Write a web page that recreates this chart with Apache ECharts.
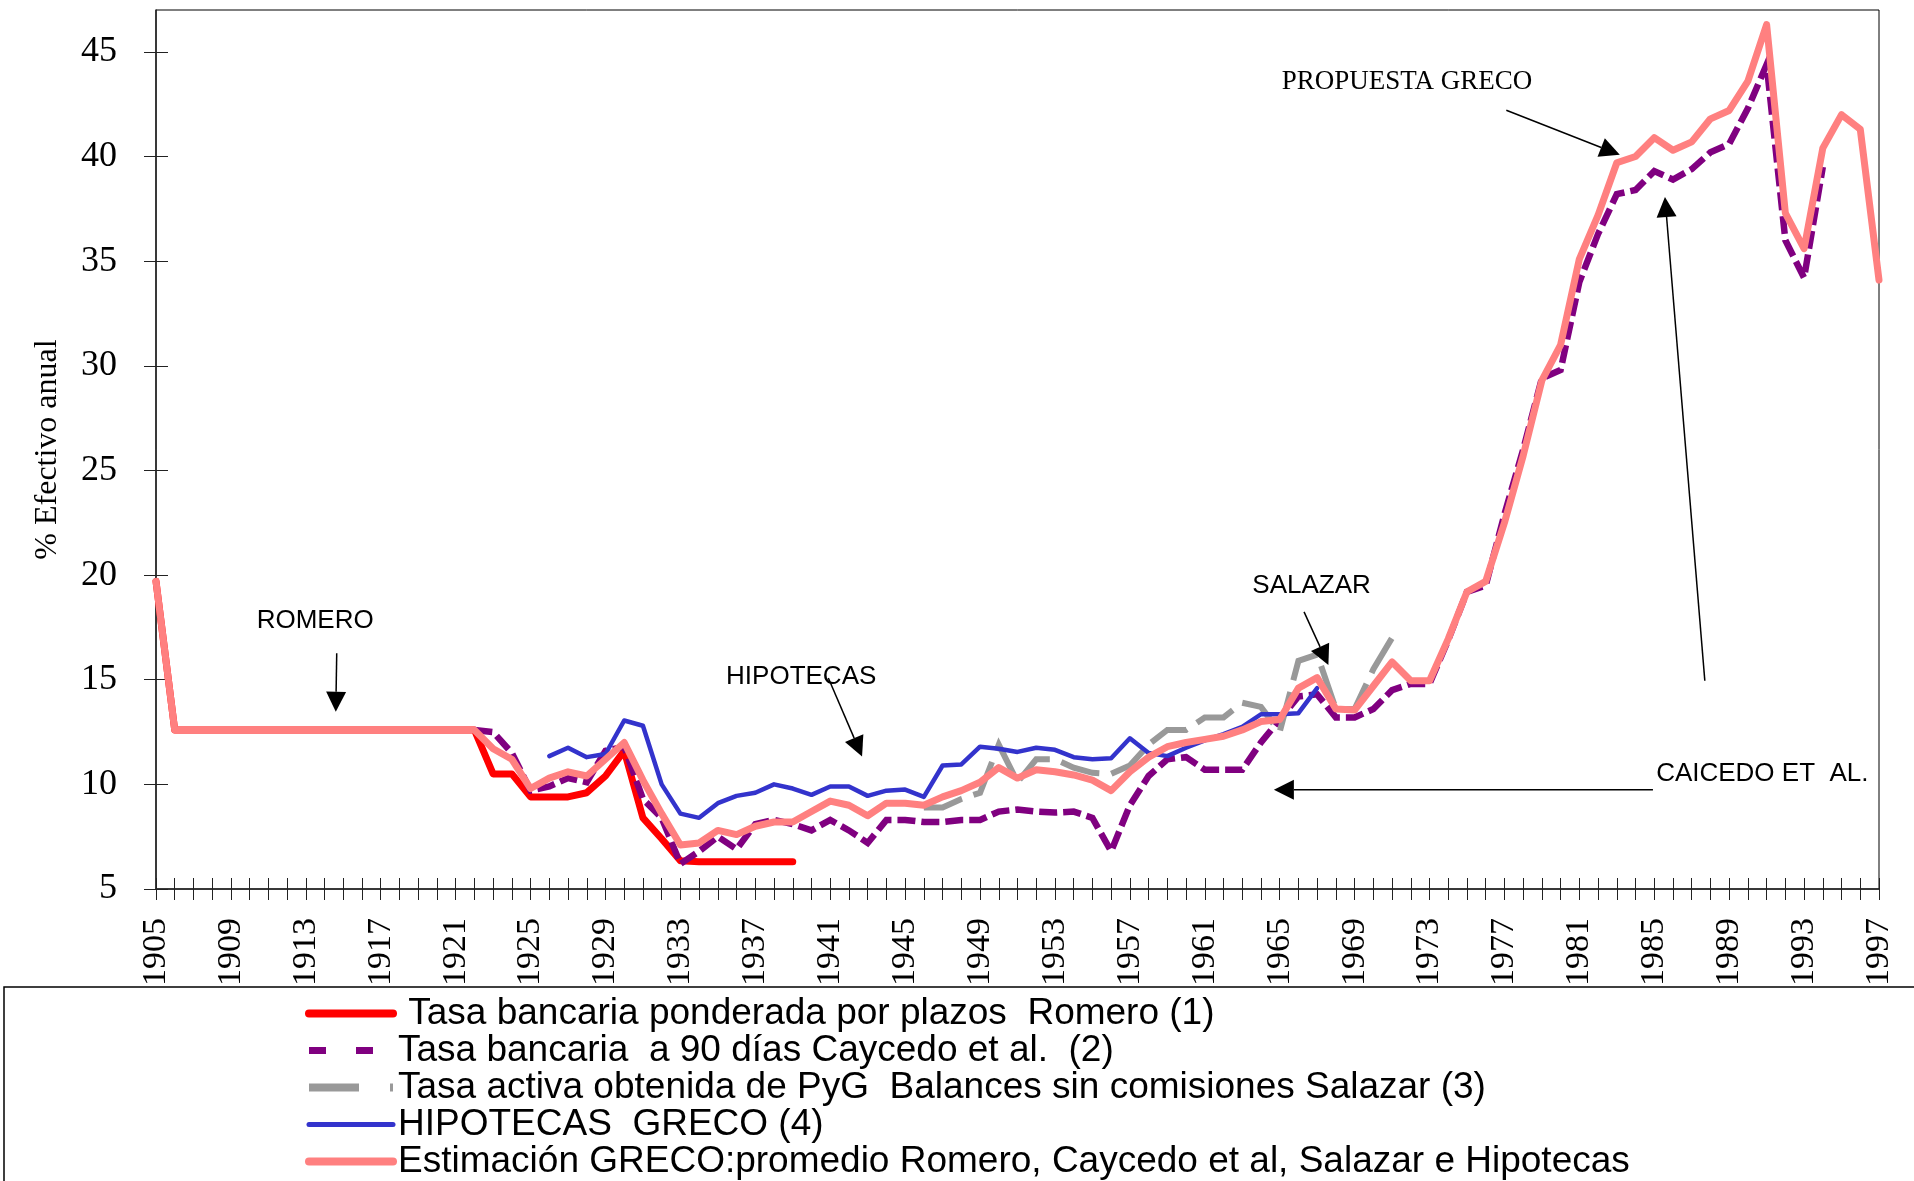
<!DOCTYPE html>
<html>
<head>
<meta charset="utf-8">
<title>Tasas de interés - Colombia 1905-1997</title>
<script src="https://cdn.jsdelivr.net/npm/echarts@6/dist/echarts.min.js"></script>
<style>
  html, body { margin: 0; padding: 0; background: #fff; }
  #chart { width: 1914px; height: 1181px; }
</style>
</head>
<body>
<div id="chart"></div>
<script>
// ---- data ----
const xLabelYears = [1905, 1909, 1913, 1917, 1921, 1925, 1929, 1933, 1937, 1941, 1945, 1949,
  1953, 1957, 1961, 1965, 1969, 1973, 1977, 1981, 1985, 1989, 1993, 1997];
const yTicks = [5, 10, 15, 20, 25, 30, 35, 40, 45];

const seriesNames = [
  ' Tasa bancaria ponderada por plazos  Romero (1)',
  'Tasa bancaria  a 90 días Caycedo et al.  (2)',
  'Tasa activa obtenida de PyG  Balances sin comisiones Salazar (3)',
  'HIPOTECAS  GRECO (4)',
  'Estimación GRECO:promedio Romero, Caycedo et al, Salazar e Hipotecas'
];

// Romero (1), from 1905
const romeroStart = 1905;
const romero = [
  19.7, 12.6, 12.6, 12.6, 12.6, 12.6, 12.6, 12.6, 12.6, 12.6,   // 1905-1914
  12.6, 12.6, 12.6, 12.6, 12.6, 12.6, 12.6, 12.6, 10.5, 10.5,   // 1915-1924
  9.4, 9.4, 9.4, 9.6, 10.4, 11.6, 8.4, 7.4, 6.35, 6.3,          // 1925-1934
  6.3, 6.3, 6.3, 6.3, 6.3                                       // 1935-1939
];

// Caycedo et al. (2), from 1922
const caycedoStart = 1922;
const caycedo = [
  12.6, 12.5, 11.5, 9.7, 9.9, 10.3, 10.1, 11.6, 11.8, 9.3,      // 1922-1931
  8.4, 6.2, 6.8, 7.5, 6.9, 8.1, 8.3, 8.1, 7.8, 8.3,             // 1932-1941
  7.8, 7.2, 8.3, 8.3, 8.2, 8.2, 8.3, 8.3, 8.7, 8.8,             // 1942-1951
  8.7, 8.65, 8.7, 8.4, 6.8, 9.0, 10.4, 11.2, 11.3, 10.7,        // 1952-1961
  10.7, 10.7, 12.0, 13.1, 14.2, 14.3, 13.2, 13.2, 13.6, 14.5,   // 1962-1971
  14.8, 14.8, 16.9, 19.2, 19.5, 22.9, 26.0, 29.4, 29.8, 34.0,   // 1972-1981
  36.3, 38.2, 38.4, 39.3, 38.9, 39.4, 40.2, 40.6, 42.3, 44.4,   // 1982-1991
  36.0, 34.2, 39.5                                              // 1992-1994
];

// Salazar (3), from 1946
const salazarStart = 1946;
const salazar = [
  8.9, 8.9, 9.3, 9.6, 11.9, 10.1, 11.2, 11.2, 10.8, 10.55,      // 1946-1955
  10.5, 10.9, 11.9, 12.6, 12.6, 13.2, 13.2, 13.9, 13.7, 12.5,   // 1956-1965
  15.9, 16.2, 13.6, 13.6, 15.5, 17.0                            // 1966-1971
];

// Hipotecas GRECO (4), from 1926
const hipotecasStart = 1926;
const hipotecas = [
  11.35, 11.75, 11.3, 11.45, 13.05, 12.8, 10.0, 8.6, 8.4, 9.1,  // 1926-1935
  9.45, 9.6, 10.0, 9.8, 9.5, 9.9, 9.9, 9.45, 9.7, 9.75,         // 1936-1945
  9.4, 10.9, 10.95, 11.8, 11.7, 11.55, 11.75, 11.65, 11.3, 11.2, // 1946-1955
  11.25, 12.2, 11.5, 11.35, 11.75, 12.1, 12.4, 12.75, 13.35, 13.35, // 1956-1965
  13.4, 14.6                                                    // 1966-1967
];

// Estimación GRECO, from 1905
const grecoStart = 1905;
const greco = [
  19.7, 12.6, 12.6, 12.6, 12.6, 12.6, 12.6, 12.6, 12.6, 12.6,   // 1905-1914
  12.6, 12.6, 12.6, 12.6, 12.6, 12.6, 12.6, 12.6, 11.7, 11.2,   // 1915-1924
  9.8, 10.3, 10.6, 10.4, 11.2, 12.0, 10.2, 8.6, 7.1, 7.2,       // 1925-1934
  7.8, 7.6, 8.0, 8.2, 8.2, 8.7, 9.2, 9.0, 8.5, 9.1,             // 1935-1944
  9.1, 9.0, 9.4, 9.7, 10.1, 10.8, 10.3, 10.7, 10.6, 10.45,      // 1945-1954
  10.2, 9.7, 10.6, 11.3, 11.8, 12.0, 12.15, 12.3, 12.6, 13.0,   // 1955-1964
  13.1, 14.6, 15.1, 13.6, 13.55, 14.7, 15.85, 14.95, 14.95, 16.95, // 1965-1974
  19.2, 19.7, 22.5, 25.7, 29.3, 31.0, 35.1, 37.2, 39.7, 40.0,   // 1975-1984
  40.9, 40.3, 40.7, 41.8, 42.2, 43.6, 46.3, 37.3, 35.6, 40.4,   // 1985-1994
  42.0, 41.3, 34.1                                              // 1995-1997
];

// annotations, placed in data units (year, %)
const notes = [
  { text: 'ROMERO', at: [1913.5, 17.8], serif: false, align: 'center' },
  { text: 'HIPOTECAS', at: [1939.45, 15.13], serif: false, align: 'center' },
  { text: 'SALAZAR', at: [1966.7, 19.5], serif: false, align: 'center' },
  { text: 'CAICEDO ET  AL.', at: [1985.1, 10.5], serif: false, align: 'left' },
  { text: 'PROPUESTA GRECO', at: [1971.8, 43.55], serif: true, align: 'center' }
];
const arrows = [
  [[1914.65, 16.26], [1914.6, 13.47]],
  [[1940.9, 15.08], [1942.7, 11.33]],
  [[1966.3, 18.24], [1967.6, 15.7]],
  [[1984.93, 9.74], [1964.69, 9.74]],
  [[1987.7, 14.95], [1985.57, 38.06]],
  [[1977.1, 42.21], [1983.16, 40.08]]
];

const SANS = '"Liberation Sans", Arial, sans-serif';
const SERIF = '"Liberation Serif", "Times New Roman", serif';

function toPairs(start, vals) {
  return vals.map((v, i) => [start + i, v]);
}

const chart = echarts.init(document.getElementById('chart'), null, { renderer: 'canvas' });

// legend entries: line only, no marker in the middle
const noMarker = { opacity: 0, borderWidth: 0 };

const option = {
  animation: false,
  backgroundColor: '#fff',
  grid: {
    left: 156, right: 35, top: 10, bottom: 292,
    containLabel: false, outerBoundsMode: 'none',
    show: true, borderColor: '#000', borderWidth: 1, backgroundColor: 'transparent'
  },
  xAxis: [
    {
      type: 'value', min: 1905, max: 1997, interval: 1,
      axisLine: { show: true, lineStyle: { color: '#222', width: 1.5 } },
      axisTick: { show: true, length: 11, lineStyle: { color: '#222', width: 1 } },
      axisLabel: {
        customValues: xLabelYears, rotate: 90, margin: 29,
        fontFamily: SERIF, fontSize: 34, color: '#000',
        formatter: v => String(v)
      },
      splitLine: { show: false }
    },
    {
      type: 'value', min: 1905, max: 1997, interval: 1, position: 'bottom',
      axisLine: { show: false },
      axisTick: { show: true, inside: true, length: 11, lineStyle: { color: '#222', width: 1 } },
      axisLabel: { show: false },
      splitLine: { show: false }
    }
  ],
  yAxis: [
    {
      type: 'value', min: 5, max: 47, interval: 5,
      name: '% Efectivo anual', nameLocation: 'middle', nameGap: 92, nameRotate: 90,
      nameTextStyle: { fontFamily: SERIF, fontSize: 32, color: '#000' },
      axisLine: { show: true, lineStyle: { color: '#222', width: 1.5 } },
      axisTick: { show: true, length: 12, customValues: yTicks, lineStyle: { color: '#222', width: 1 } },
      axisLabel: { customValues: yTicks, margin: 39, fontFamily: SERIF, fontSize: 36, color: '#000' },
      splitLine: { show: false }
    },
    {
      type: 'value', min: 5, max: 47, interval: 5, position: 'left',
      axisLine: { show: false },
      axisTick: { show: true, inside: true, length: 12, customValues: yTicks, lineStyle: { color: '#222', width: 1 } },
      axisLabel: { show: false },
      splitLine: { show: false }
    }
  ],
  legend: {
    orient: 'vertical', left: 305, top: 995, padding: 0, itemGap: 0,
    itemWidth: 84, itemHeight: 37, z: 20,
    textStyle: { fontFamily: SANS, fontSize: 37, color: '#000', lineHeight: 37 },
    data: [
      { name: seriesNames[0], itemStyle: noMarker, lineStyle: { width: 8, type: 'solid', cap: 'round' } },
      { name: seriesNames[1], itemStyle: noMarker, lineStyle: { width: 7, type: [17, 30], cap: 'butt' } },
      { name: seriesNames[2], itemStyle: noMarker, lineStyle: { width: 8, type: [50, 31], cap: 'butt' } },
      { name: seriesNames[3], itemStyle: noMarker, lineStyle: { width: 5, type: 'solid', cap: 'round' } },
      { name: seriesNames[4], itemStyle: noMarker, lineStyle: { width: 8, type: 'solid', cap: 'round' } }
    ]
  },
  series: [
    {
      name: seriesNames[0], type: 'line', symbol: 'none', z: 2,
      data: toPairs(romeroStart, romero),
      lineStyle: { color: '#ff0000', width: 7, cap: 'round', join: 'round' },
      itemStyle: { color: '#ff0000' }
    },
    {
      name: seriesNames[1], type: 'line', symbol: 'none', z: 3,
      data: toPairs(caycedoStart, caycedo),
      lineStyle: { color: '#800080', width: 6.5, type: [18, 6], cap: 'butt', join: 'miter' },
      itemStyle: { color: '#800080' }
    },
    {
      name: seriesNames[2], type: 'line', symbol: 'none', z: 4,
      data: toPairs(salazarStart, salazar),
      lineStyle: { color: '#999999', width: 6, type: [40, 12], cap: 'butt', join: 'miter' },
      itemStyle: { color: '#999999' }
    },
    {
      name: seriesNames[3], type: 'line', symbol: 'none', z: 5,
      data: toPairs(hipotecasStart, hipotecas),
      lineStyle: { color: '#3333cc', width: 4.5, cap: 'round', join: 'round' },
      itemStyle: { color: '#3333cc' }
    },
    {
      name: seriesNames[4], type: 'line', symbol: 'none', z: 6,
      data: toPairs(grecoStart, greco),
      lineStyle: { color: '#ff8080', width: 7, cap: 'round', join: 'round' },
      itemStyle: { color: '#ff8080' }
    }
  ]
};

chart.setOption(option);

// annotations: convert data positions to pixels through the chart's own axes
function px(p) {
  return chart.convertToPixel({ xAxisIndex: 0, yAxisIndex: 0 }, p);
}

const graphics = [
  {
    // legend frame, it also hides the lower end of the year labels
    type: 'rect', z: 10,
    shape: { x: 4, y: 987, width: 2000, height: 400 },
    style: { fill: '#fff', stroke: '#000', lineWidth: 1.5 }
  }
];

notes.forEach(n => {
  const p = px(n.at);
  graphics.push({
    type: 'text', z: 30,
    style: {
      text: n.text, x: p[0], y: p[1],
      font: n.serif ? '27px ' + SERIF : '26px ' + SANS,
      fill: '#000', align: n.align, verticalAlign: 'middle'
    }
  });
});

arrows.forEach(a => {
  const p0 = px(a[0]);
  const p1 = px(a[1]);
  const dx = p1[0] - p0[0], dy = p1[1] - p0[1];
  const len = Math.sqrt(dx * dx + dy * dy);
  const ux = dx / len, uy = dy / len;
  const bx = p1[0] - ux * 20, by = p1[1] - uy * 20;
  graphics.push({
    type: 'line', z: 30,
    shape: { x1: p0[0], y1: p0[1], x2: bx, y2: by },
    style: { stroke: '#000', lineWidth: 1.5 }
  });
  graphics.push({
    type: 'polygon', z: 30,
    shape: { points: [[p1[0], p1[1]], [bx - uy * 10, by + ux * 10], [bx + uy * 10, by - ux * 10]] },
    style: { fill: '#000' }
  });
});

chart.setOption({ graphic: graphics });
</script>
</body>
</html>
